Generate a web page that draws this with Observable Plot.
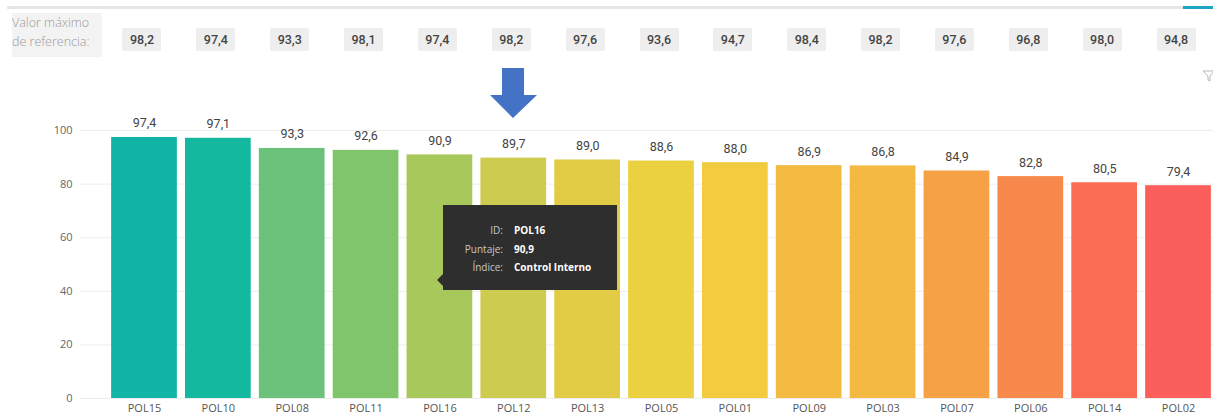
<!DOCTYPE html>
<html>
<head>
<meta charset="utf-8">
<script src="https://cdn.jsdelivr.net/npm/d3@7"></script>
<script src="https://cdn.jsdelivr.net/npm/@observablehq/plot@0.6"></script>
<style>
  html, body { margin: 0; padding: 0; background: #fff; }
  #wrap { position: relative; width: 1213px; height: 417px; overflow: hidden; font-family: "Open Sans", sans-serif; }
  #wrap svg.plot { position: absolute; left: 0; top: 0; }
  .topline { position: absolute; left: 7px; top: 6px; width: 1176px; height: 3px; background: #e6e6e6; }
  .topline2 { position: absolute; left: 1183px; top: 6px; width: 30px; height: 3px; background: #1ea5c6; }
  .reflabel { position: absolute; left: 12px; top: 13px; width: 90px; height: 44px; background: #f3f3f3;
              color: #9a9a9a; font-family: "Open Sans", sans-serif; font-weight: 300; font-size: 12.5px; line-height: 19px; box-sizing: border-box; }
  .refbox { position: absolute; top: 28px; width: 39px; height: 23px; background: #eeeeee; border-radius: 2px;
            color: #444; font-family: Roboto, sans-serif; font-weight: 500; font-size: 12.5px; line-height: 23px; text-align: center; }
  .tip { position: absolute; left: 443px; top: 205px; width: 174px; height: 85px; background: #2e2e2e; }
  .tip .row { position: absolute; left: 0; width: 174px; font-size: 10px; line-height: 13px; font-family: "Open Sans", sans-serif; }
  .tip .lab { position: absolute; right: 114px; color: #c8c8c8; text-align: right; white-space: nowrap; }
  .tip .val { position: absolute; left: 71px; color: #fff; font-weight: 700; white-space: nowrap; }
  .tipptr { position: absolute; left: 437px; top: 274px; width: 0; height: 0; border-top: 6px solid transparent; border-bottom: 6px solid transparent; border-right: 6px solid #2e2e2e; }
</style>
</head>
<body>
<div id="wrap"></div>
<script>
// ---- data ----
const ids = ["POL15","POL10","POL08","POL11","POL16","POL12","POL13","POL05","POL01","POL09","POL03","POL07","POL06","POL14","POL02"];
const scores = [97.4, 97.1, 93.3, 92.6, 90.9, 89.7, 89.0, 88.6, 88.0, 86.9, 86.8, 84.9, 82.8, 80.5, 79.4];
const refMax = [98.2, 97.4, 93.3, 98.1, 97.4, 98.2, 97.6, 93.6, 94.7, 98.4, 98.2, 97.6, 96.8, 98.0, 94.8];
const yTicks = [0, 20, 40, 60, 80, 100];
const refLabel = ["Valor máximo", "de referencia:"];
const tipRows = [["ID:", "POL16"], ["Puntaje:", "90,9"], ["Índice:", "Control Interno"]];
// ---- styles ----
const palette = ["#12b5a5","#14b89f","#6cc17b","#80c56c","#a9c85b","#cdcb50","#e2cc45","#ebd040","#f2cb3e","#f3bb42","#f4b943","#f6a146","#f8894c","#fb6c55","#fc5f5b"];

const data = ids.map((id, i) => ({id, score: scores[i], ref: refMax[i]}));
const fmt = v => v.toFixed(1).replace(".", ",");

const chart = Plot.plot({
  width: 1213, height: 417,
  marginTop: 130, marginBottom: 19, marginLeft: 103, marginRight: 0,
  x: {domain: ids, padding: 0.11, round: false, label: null, range: [103, 1219]},
  y: {domain: [0, 100], label: null},
  color: {domain: ids, range: palette},
  style: {fontFamily: "'Open Sans', sans-serif", background: "transparent"},
  marks: [
    Plot.ruleY(yTicks, {stroke: "#ededed", strokeWidth: 1, insetLeft: -23}),
    Plot.barY(data, {x: "id", y: "score", fill: "id"}),
    Plot.text(data, {x: "id", y: "score", text: d => fmt(d.score), dy: -10, lineAnchor: "bottom",
                     fontSize: 12.5, fill: "#444", fontFamily: "Roboto, sans-serif"}),
    Plot.axisY({ticks: yTicks, tickSize: 0, tickPadding: 31, fontSize: 11, color: "#666", label: null}),
    Plot.axisX({tickSize: 0, tickPadding: 6, fontSize: 11, color: "#555", label: null})
  ]
});

const wrap = document.getElementById("wrap");
wrap.appendChild(chart);

// top decoration lines
const l1 = document.createElement("div"); l1.className = "topline"; wrap.appendChild(l1);
const l2 = document.createElement("div"); l2.className = "topline2"; wrap.appendChild(l2);

// reference label
const rl = document.createElement("div"); rl.className = "reflabel";
rl.innerHTML = refLabel.join("<br>");
wrap.appendChild(rl);

// reference value boxes, positioned by the plot's x scale
const xs = chart.scale("x");
data.forEach(d => {
  const cx = xs.apply(d.id) + xs.bandwidth / 2 - 2;
  const b = document.createElement("div");
  b.className = "refbox";
  b.style.left = (cx - 19.5) + "px";
  b.textContent = fmt(d.ref);
  wrap.appendChild(b);
});

// blue arrow pointing at POL12
const arrowX = xs.apply("POL12") + xs.bandwidth / 2;
const ns = "http://www.w3.org/2000/svg";
const arr = document.createElementNS(ns, "svg");
arr.setAttribute("width", 50); arr.setAttribute("height", 52);
arr.style.position = "absolute"; arr.style.left = (arrowX - 24) + "px"; arr.style.top = "67px";
arr.innerHTML = '<polygon points="13,1 35,1 35,28 48,28 24,51 1,28 13,28" fill="#4472c4"/>';
wrap.appendChild(arr);

// filter icon
const fi = document.createElementNS(ns, "svg");
fi.setAttribute("width", 14); fi.setAttribute("height", 14);
fi.style.position = "absolute"; fi.style.left = "1202px"; fi.style.top = "69px";
fi.innerHTML = '<path d="M1,2 L12,2 L8,7 L8,12 L6,11 L6,7 Z" fill="none" stroke="#b8b8b8" stroke-width="1"/>';
wrap.appendChild(fi);

// tooltip
const tip = document.createElement("div"); tip.className = "tip";
tipRows.forEach((r, i) => {
  const row = document.createElement("div"); row.className = "row";
  row.style.top = (19 + i * 18.5) + "px";
  row.innerHTML = '<span class="lab">' + r[0] + '</span><span class="val">' + r[1] + '</span>';
  tip.appendChild(row);
});
wrap.appendChild(tip);
const ptr = document.createElement("div"); ptr.className = "tipptr"; wrap.appendChild(ptr);
</script>
</body>
</html>
